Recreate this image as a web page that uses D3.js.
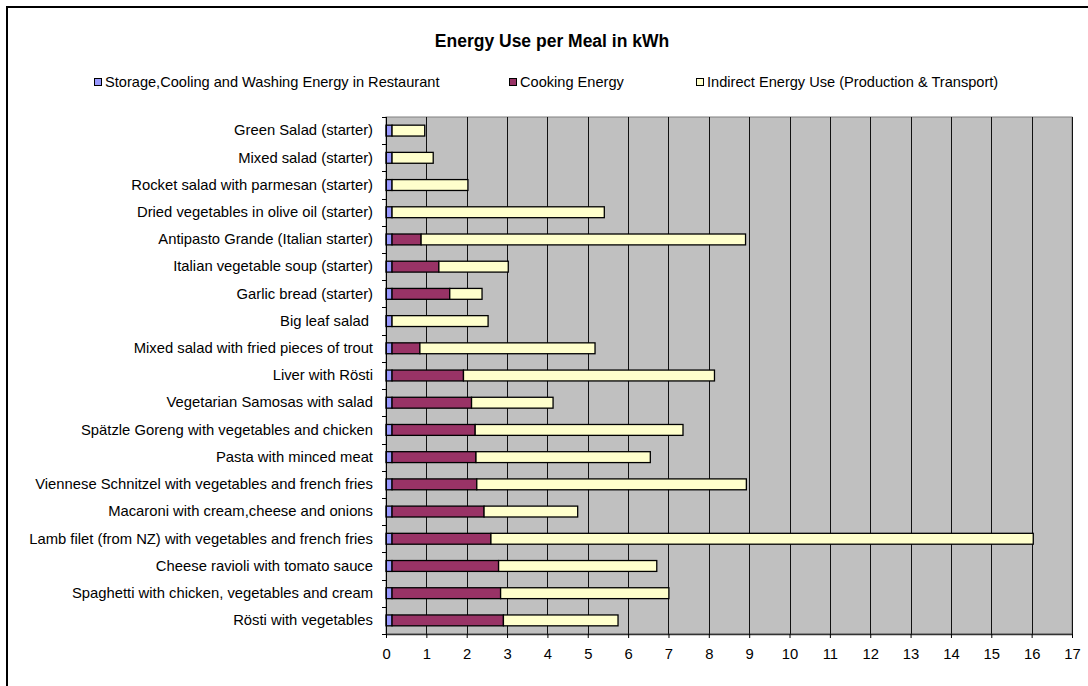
<!DOCTYPE html>
<html>
<head>
<meta charset="utf-8">
<script src="https://cdn.jsdelivr.net/npm/d3@7"></script>
<style>
  html, body { margin: 0; padding: 0; background: #fff; }
  svg { display: block; font-family: "Liberation Sans", Arial, sans-serif; }
</style>
</head>
<body>
<svg id="chart" width="1088" height="686"></svg>
<script>
// Meals, top to bottom
const meals = [
  "Green Salad (starter)",
  "Mixed salad (starter)",
  "Rocket salad with parmesan (starter)",
  "Dried vegetables in olive oil (starter)",
  "Antipasto Grande (Italian starter)",
  "Italian vegetable soup (starter)",
  "Garlic bread (starter)",
  "Big leaf salad ",
  "Mixed salad with fried pieces of trout",
  "Liver with Rösti",
  "Vegetarian Samosas with salad",
  "Spätzle Goreng with vegetables and chicken",
  "Pasta with minced meat",
  "Viennese Schnitzel with vegetables and french fries",
  "Macaroni with cream,cheese and onions",
  "Lamb filet (from NZ) with vegetables and french fries",
  "Cheese ravioli with tomato sauce",
  "Spaghetti with chicken, vegetables and cream",
  "Rösti with vegetables"
];

// kWh per meal for each energy component
const storage = [0.15, 0.15, 0.15, 0.15, 0.15, 0.15, 0.15, 0.15, 0.15, 0.15,
                 0.15, 0.15, 0.15, 0.15, 0.15, 0.15, 0.15, 0.15, 0.15];
const cooking = [0, 0, 0, 0, 0.72, 1.16, 1.43, 0, 0.69, 1.77,
                 1.97, 2.06, 2.08, 2.10, 2.28, 2.45, 2.64, 2.69, 2.76];
const indirect = [0.81, 1.02, 1.88, 5.26, 8.04, 1.72, 0.80, 2.38, 4.34, 6.22,
                  2.02, 5.15, 4.32, 6.68, 2.32, 13.44, 3.92, 4.17, 2.84];

const seriesNames = [
  "Storage,Cooling and Washing Energy in Restaurant",
  "Cooking Energy",
  "Indirect Energy Use (Production & Transport)"
];
const seriesColors = ["#9999ff", "#993366", "#ffffcc"];
const xTicks = [0, 1, 2, 3, 4, 5, 6, 7, 8, 9, 10, 11, 12, 13, 14, 15, 16, 17];
const chartTitle = "Energy Use per Meal in kWh";

const keys = ["storage", "cooking", "indirect"];
const rows = meals.map((m, i) => ({
  meal: m, storage: storage[i], cooking: cooking[i], indirect: indirect[i]
}));

const svg = d3.select("#chart");

// Plot area bounds
const plotLeft = 386, plotRight = 1072, plotTop = 117, plotBottom = 634;

const x = d3.scaleLinear().domain([0, 17]).range([plotLeft, plotRight]);
const y = d3.scaleBand().domain(meals).range([plotTop, plotBottom])
  .paddingInner(0.6).paddingOuter(0.3);
const color = d3.scaleOrdinal().domain(keys).range(seriesColors);

// Chart frame
svg.append("path")
  .attr("d", "M7,690V7H1092")
  .attr("fill", "none")
  .attr("stroke", "#000")
  .attr("stroke-width", 2);

// Title
svg.append("text")
  .attr("x", 552).attr("y", 47)
  .attr("text-anchor", "middle")
  .attr("font-weight", "bold")
  .attr("font-size", "17.5px")
  .attr("fill", "#000")
  .text(chartTitle);

// Legend
const legendX = [94, 509, 696];
const legend = svg.append("g").selectAll("g")
  .data(seriesNames)
  .join("g")
  .attr("transform", (d, i) => `translate(${legendX[i]},82)`);
legend.append("rect")
  .attr("x", 0.5).attr("y", -3.5)
  .attr("width", 7).attr("height", 7)
  .attr("fill", (d, i) => seriesColors[i])
  .attr("stroke", "#000").attr("stroke-width", 1);
legend.append("text")
  .attr("x", 11).attr("y", 5)
  .attr("font-size", "14.6px")
  .attr("fill", "#000")
  .text(d => d);

// Plot background
svg.append("rect")
  .attr("x", plotLeft).attr("y", plotTop)
  .attr("width", plotRight - plotLeft).attr("height", plotBottom - plotTop)
  .attr("fill", "#c0c0c0")
  .attr("stroke", "#808080").attr("stroke-width", 1);

// Vertical gridlines
svg.append("g").selectAll("line")
  .data(xTicks.filter(t => t > 0))
  .join("line")
  .attr("x1", d => Math.round(x(d)) + 0.5).attr("x2", d => Math.round(x(d)) + 0.5)
  .attr("y1", plotTop).attr("y2", plotBottom)
  .attr("stroke", "#111").attr("stroke-width", 1);

// Stacked bars
const stacked = d3.stack().keys(keys)(rows);
svg.append("g").selectAll("g")
  .data(stacked)
  .join("g")
  .attr("fill", d => color(d.key))
  .selectAll("rect")
  .data(d => d.filter(s => s[1] - s[0] > 0))
  .join("rect")
  .attr("x", d => x(d[0]))
  .attr("y", d => y(d.data.meal))
  .attr("width", d => x(d[1]) - x(d[0]))
  .attr("height", y.bandwidth())
  .attr("stroke", "#000").attr("stroke-width", 1.3);

// Category axis (labels only; ticks sit between categories)
const yAxis = svg.append("g")
  .attr("transform", `translate(${plotLeft},0)`)
  .call(d3.axisLeft(y).tickSize(0).tickPadding(13));
yAxis.select(".domain").remove();
yAxis.selectAll("text")
  .attr("font-size", "14.8px")
  .attr("font-family", "Liberation Sans, Arial, sans-serif")
  .attr("fill", "#000")
  .style("white-space", "pre");

const step = y.step();
const boundaries = meals.map(m => y(m) - (step - y.bandwidth()) / 2).concat([plotBottom]);
svg.append("g").selectAll("line")
  .data(boundaries)
  .join("line")
  .attr("x1", plotLeft - 4).attr("x2", plotLeft)
  .attr("y1", d => Math.round(d) + 0.5).attr("y2", d => Math.round(d) + 0.5)
  .attr("stroke", "#000").attr("stroke-width", 1);
svg.append("line")
  .attr("x1", plotLeft + 0.5).attr("x2", plotLeft + 0.5)
  .attr("y1", plotTop).attr("y2", plotBottom)
  .attr("stroke", "#000").attr("stroke-width", 1);

// Value axis
const xAxis = svg.append("g")
  .attr("transform", `translate(0,${plotBottom})`)
  .call(d3.axisBottom(x).tickValues(xTicks).tickFormat(d3.format("d"))
    .tickSize(4).tickSizeOuter(0).tickPadding(10));
xAxis.select(".domain").attr("stroke", "#333").attr("stroke-width", 1.5);
xAxis.selectAll(".tick line").attr("stroke", "#000");
xAxis.selectAll("text")
  .attr("font-size", "14.8px")
  .attr("font-family", "Liberation Sans, Arial, sans-serif")
  .attr("fill", "#000");
</script>
</body>
</html>
